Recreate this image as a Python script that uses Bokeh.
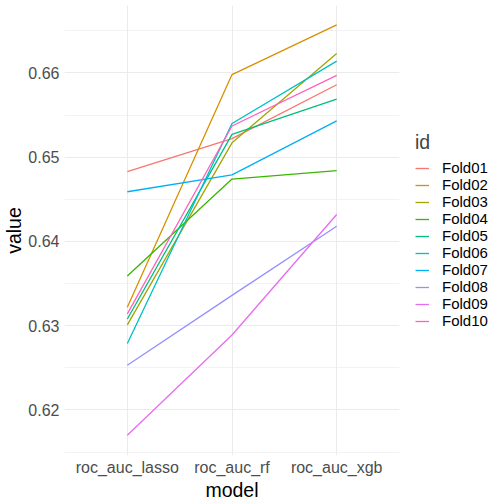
from bokeh.plotting import figure
from bokeh.models import FactorRange, Range1d, SingleIntervalTicker, Legend, LegendItem, PrintfTickFormatter
from bokeh.embed import file_html
from bokeh.resources import INLINE

models = ["roc_auc_lasso", "roc_auc_rf", "roc_auc_xgb"]
folds = ["Fold01", "Fold02", "Fold03", "Fold04", "Fold05",
         "Fold06", "Fold07", "Fold08", "Fold09", "Fold10"]

fold01 = [0.6483, 0.6522, 0.6586]
fold02 = [0.6322, 0.6598, 0.6657]
fold03 = [0.6301, 0.6517, 0.6623]
fold04 = [0.6359, 0.6474, 0.6484]
fold05 = [0.6308, 0.6527, 0.6569]
fold06 = [0.6279, 0.6540, 0.6614]
fold07 = [0.6459, 0.6479, 0.6543]
fold08 = [0.6253, 0.6336, 0.6418]
fold09 = [0.6170, 0.6289, 0.6432]
fold10 = [0.6314, 0.6537, 0.6597]
values = [fold01, fold02, fold03, fold04, fold05, fold06, fold07, fold08, fold09, fold10]

colors = ["#F8766D", "#D89000", "#A3A500", "#39B600", "#00BF7D",
          "#00BFC4", "#00B0F6", "#9590FF", "#E76BF3", "#FF62BC"]

FONT = "Liberation Sans"

p = figure(frame_width=335, frame_height=450,
           x_range=FactorRange(*models, range_padding=0.1, range_padding_units="absolute"),
           y_range=Range1d(0.6146, 0.6680),
           output_backend="svg", toolbar_location=None,
           min_border_top=5, min_border_left=0, min_border_right=0, min_border_bottom=0)

p.outline_line_color = None
p.background_fill_color = "white"
p.border_fill_color = "white"

items = []
for name, vals, col in zip(folds, values, colors):
    r = p.line(models, vals, line_color=col, line_width=1.3)
    items.append(LegendItem(label=name, renderers=[r]))

# axes
p.yaxis.ticker = SingleIntervalTicker(interval=0.01, num_minor_ticks=2)
p.yaxis.formatter = PrintfTickFormatter(format="%.2f")
for ax in (p.xaxis[0], p.yaxis[0]):
    ax.axis_line_color = None
    ax.major_tick_line_color = None
    ax.minor_tick_line_color = None
    ax.major_tick_out = 0
    ax.minor_tick_out = 0
    ax.major_label_text_font = FONT
    ax.major_label_text_font_size = "16px"
    ax.major_label_text_color = "#4D4D4D"
    ax.axis_label_text_font = FONT
    ax.axis_label_text_font_size = "19.5px"
    ax.axis_label_text_font_style = "normal"
    ax.axis_label_text_color = "black"
p.xaxis.axis_label = "model"
p.yaxis.axis_label = "value"
p.yaxis.major_label_standoff = 5
p.xaxis.major_label_standoff = 3
p.yaxis.axis_label_standoff = 0
p.xaxis.axis_label_standoff = 0

# grids
p.xgrid.grid_line_color = "#EBEBEB"
p.xgrid.grid_line_width = 1.1
p.ygrid.grid_line_color = "#EBEBEB"
p.ygrid.grid_line_width = 1.1
p.ygrid.minor_grid_line_color = "#EBEBEB"
p.ygrid.minor_grid_line_width = 0.6

legend = Legend(items=items, title="id", location="center_left")
legend.title_text_font = FONT
legend.title_text_font_size = "19.5px"
legend.title_text_font_style = "normal"
legend.title_standoff = 5
legend.label_text_font = FONT
legend.label_text_font_size = "15px"
legend.label_text_color = "black"
legend.glyph_width = 14
legend.glyph_height = 16
legend.label_height = 16
legend.spacing = 0
legend.label_standoff = 13
legend.padding = 6
legend.margin = 16
legend.border_line_color = None
legend.background_fill_alpha = 0
p.add_layout(legend, "right")

open("out.html", "w").write(file_html(p, INLINE))
